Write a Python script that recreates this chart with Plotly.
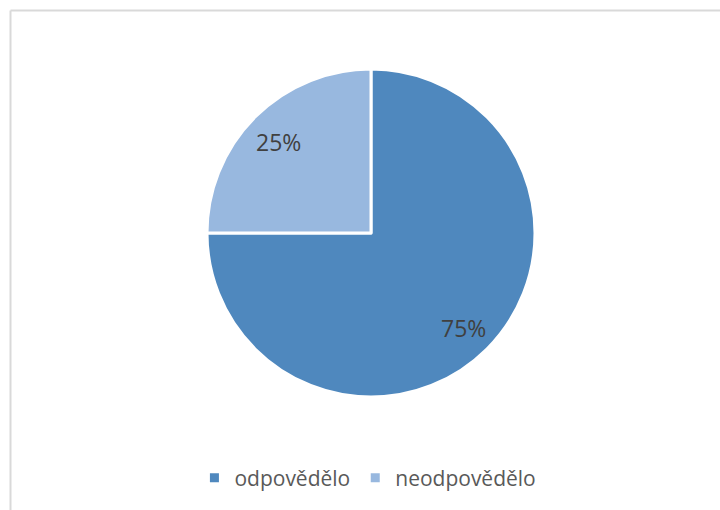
import math
import plotly.graph_objects as go

labels = ["odpovědělo", "neodpovědělo"]
values = [75, 25]
colors = ["#4F88BE", "#98B8DF"]

W, H = 720, 510
cx, cy, r = 371, 233, 164
label_radius = 0.80

fig = go.Figure()
fig.add_trace(go.Pie(
    labels=labels,
    values=values,
    sort=False,
    direction="clockwise",
    rotation=0,
    marker=dict(colors=colors, line=dict(color="white", width=3)),
    textinfo="none",
    domain=dict(x=[(cx - r) / W, (cx + r) / W], y=[1 - (cy + r) / H, 1 - (cy - r) / H]),
    hoverinfo="skip",
))

# percentage labels placed at slice mid-angles, derived from the data
total = sum(values)
annotations = []
cum = 0
for v in values:
    mid = (cum + v / 2) / total * 2 * math.pi  # clockwise from 12 o'clock
    cum += v
    px = cx + label_radius * r * math.sin(mid)
    py = cy - label_radius * r * math.cos(mid) + 2
    annotations.append(dict(
        x=px / W, y=1 - py / H, xref="paper", yref="paper",
        text=f"{round(v / total * 100)}%", showarrow=False,
        xanchor="center", yanchor="middle",
        font=dict(family="Open Sans", size=23, color="#404040"),
    ))

fig.update_layout(
    width=W, height=H,
    margin=dict(l=0, r=0, t=0, b=0),
    paper_bgcolor="white",
    plot_bgcolor="white",
    showlegend=True,
    legend=dict(
        orientation="h",
        x=0.511, xanchor="center",
        y=1 - 478 / H, yanchor="middle",
        font=dict(family="Open Sans", size=21, color="#595959"),
        itemwidth=30,
    ),
    annotations=annotations,
    shapes=[
        dict(type="line", xref="paper", yref="paper",
             x0=10.5 / W, x1=10.5 / W, y0=0, y1=1 - 10.5 / H,
             line=dict(color="#d9d9d9", width=2)),
        dict(type="line", xref="paper", yref="paper",
             x0=10.5 / W, x1=1, y0=1 - 10.5 / H, y1=1 - 10.5 / H,
             line=dict(color="#d9d9d9", width=2)),
    ],
)

fig.write_html("out.html")
